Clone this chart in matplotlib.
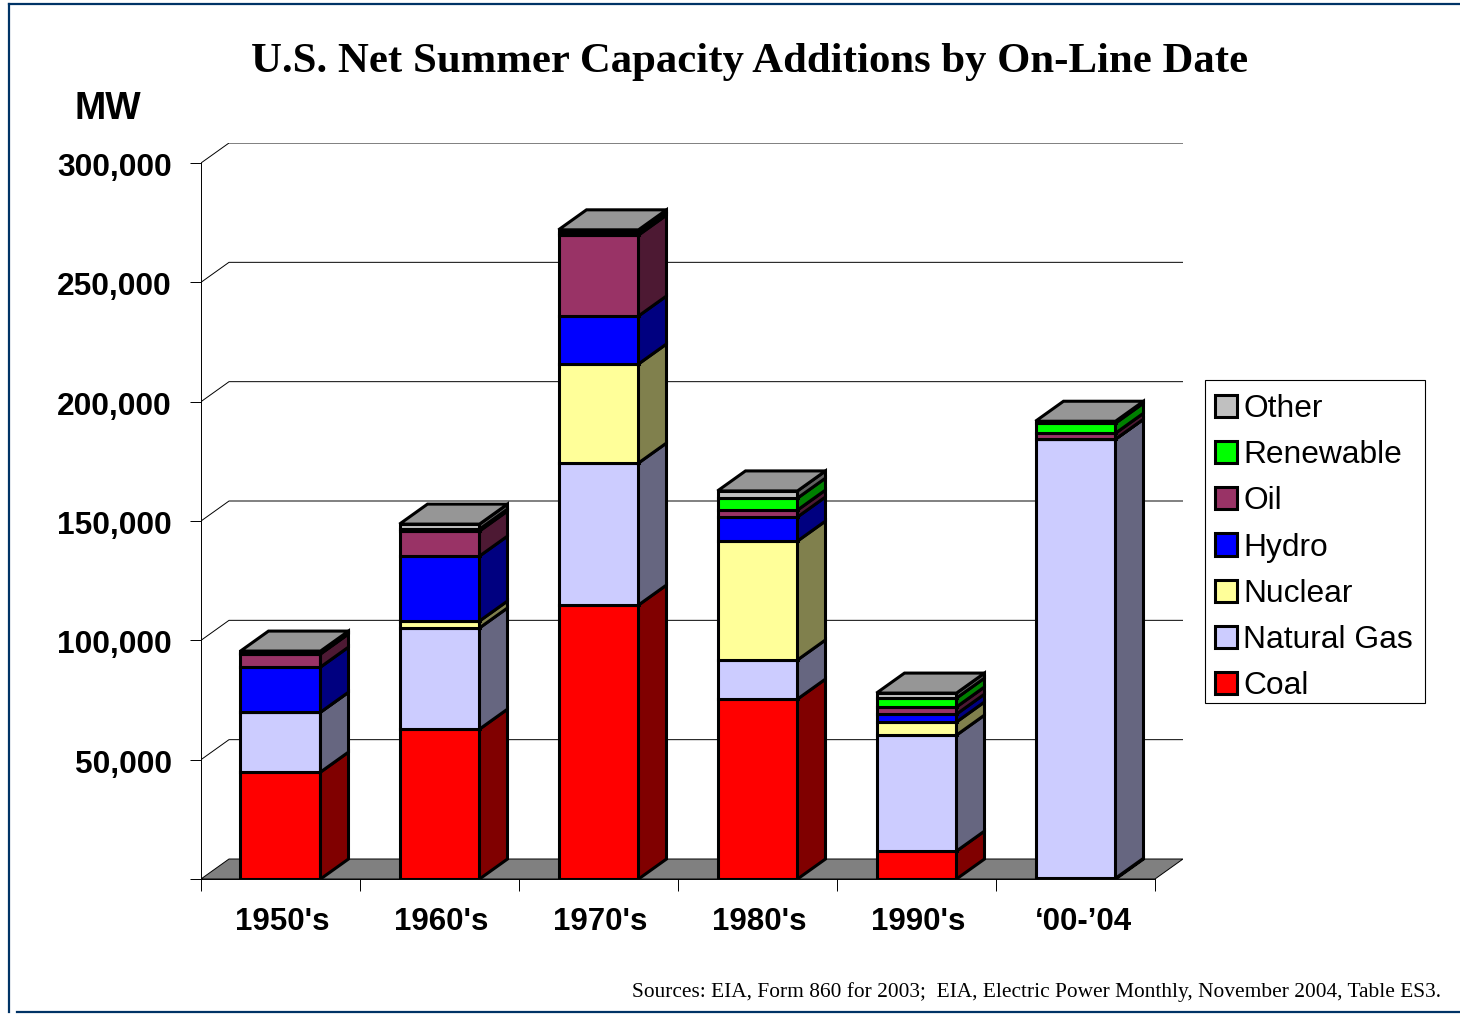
import numpy as np
import matplotlib
matplotlib.use("Agg")
import matplotlib.pyplot as plt
from matplotlib.lines import Line2D
from matplotlib.patches import Patch, Polygon, Rectangle
from matplotlib.transforms import ScaledTranslation

# values in MW
decades = ["1950's", "1960's", "1970's", "1980's", "1990's", "\u201800-\u201904"]
coal = [44800, 62800, 114800, 75400, 11700, 300]
natural_gas = [25100, 42400, 59500, 16400, 48600, 184000]
nuclear = [0, 2900, 41500, 49800, 5500, 0]
hydro = [18900, 27200, 20100, 10100, 3300, 0]
oil = [5500, 10500, 33900, 2900, 3000, 2500]
renewable = [300, 800, 1000, 5000, 3700, 4200]
other = [900, 2100, 1200, 3000, 2100, 800]

series = ["Coal", "Natural Gas", "Nuclear", "Hydro", "Oil", "Renewable", "Other"]
values = [coal, natural_gas, nuclear, hydro, oil, renewable, other]
front_colors = ["#FF0000", "#CCCCFF", "#FFFF99", "#0000FF", "#993366", "#00FF00", "#C0C0C0"]
side_colors = ["#800000", "#666680", "#80804D", "#000080", "#4D1933", "#008000", "#606060"]
y_ticks = [0, 50000, 100000, 150000, 200000, 250000, 300000]

W, H = 1460, 1014
plt.rcParams["font.family"] = ["Liberation Sans", "DejaVu Sans"]
fig = plt.figure(figsize=(W / 100, H / 100), dpi=100, facecolor="white")
ax = fig.add_axes([201 / W, (H - 879) / H, 982 / W, 736 / H])
ax.set_facecolor("none")

# one category = 159 px, 300000 MW = 716 px
xmax = 982 / 159
ymax = 736 / 716 * 300000
dx = 28 / 159
dy = 20 / 716 * 300000
bar_w = 80 / 159
edge = 2.2

ax.set_xlim(0, xmax)
ax.set_ylim(0, ymax)

# back wall lines and floor
for t in y_ticks[1:]:
    ax.plot([0, dx, xmax], [t, t + dy, t + dy], color="black", lw=0.7, zorder=1)
ax.add_patch(Polygon([(0, 0), (dx, dy), (xmax, dy), (6, 0)], closed=True,
                     facecolor="#808080", edgecolor="black", lw=0.7, zorder=1))

# stacked bars with fake depth
x = np.arange(len(decades)) + 0.5
for i in range(len(decades)):
    bottom = 0
    left = x[i] - bar_w / 2
    right = x[i] + bar_w / 2
    for s in range(len(series)):
        v = values[s][i]
        top = bottom + v
        ax.bar(x[i], v, bar_w, bottom=bottom, color=front_colors[s], edgecolor="black",
               linewidth=edge, zorder=3)
        ax.add_patch(Polygon([(right, bottom), (right + dx, bottom + dy), (right + dx, top + dy), (right, top)],
                             closed=True, facecolor=side_colors[s], edgecolor="black", lw=edge,
                             joinstyle="miter", zorder=3))
        bottom = top
    ax.add_patch(Polygon([(left, bottom), (left + dx, bottom + dy), (right + dx, bottom + dy), (right, bottom)],
                         closed=True, facecolor="#969696", edgecolor="black", lw=edge,
                         joinstyle="miter", zorder=3))

# axes
for name in ["top", "right"]:
    ax.spines[name].set_visible(False)
ax.spines["left"].set_bounds(0, 300000)
ax.spines["bottom"].set_bounds(0, 6)
ax.spines["left"].set_linewidth(0.7)
ax.spines["bottom"].set_linewidth(0.7)
ax.spines["left"].set_zorder(2)
ax.spines["bottom"].set_zorder(2)

ax.set_yticks(y_ticks)
ax.set_yticklabels(["" if t == 0 else f"{t:,}" for t in y_ticks], fontsize=22.85, fontweight="bold")
ax.tick_params(axis="y", length=8, width=0.7, pad=13)
for lab in ax.get_yticklabels():
    lab.set_transform(lab.get_transform() + ScaledTranslation(0, -1.5 / 100, fig.dpi_scale_trans))
ax.set_xticks(np.arange(7))
ax.set_xticklabels([])
ax.tick_params(axis="x", which="major", length=8.5, width=0.7)
ax.set_xticks(x, minor=True)
ax.set_xticklabels(decades, minor=True, fontsize=22.5, fontweight="bold")
ax.tick_params(axis="x", which="minor", length=0, pad=20)
labs = ax.get_xticklabels(minor=True)
for n, lab in enumerate(labs):
    shift = 8 if n == len(labs) - 1 else 1.5
    lab.set_transform(lab.get_transform() + ScaledTranslation(shift / 100, 0, fig.dpi_scale_trans))

# legend, top entry first, with its frame drawn apart to fit the box
ax.add_patch(Rectangle((1205 / W, 1 - 703 / H), 220 / W, 323 / H, transform=fig.transFigure,
                       facecolor="white", edgecolor="black", lw=0.8, clip_on=False, zorder=4))
handles = [Patch(facecolor=front_colors[s], edgecolor="black", linewidth=edge, label=series[s])
           for s in range(len(series) - 1, -1, -1)]
leg = ax.legend(handles=handles, loc="upper left", bbox_to_anchor=(1215 / W, (H - 394) / H),
                bbox_transform=fig.transFigure, fontsize=22.9, frameon=False, borderaxespad=0,
                borderpad=0, handlelength=0.69, handleheight=0.69, handletextpad=0.2,
                labelspacing=0.51)
leg.set_zorder(5)

# title and other text
fig.text(750 / W, 1 - 62 / H, "U.S. Net Summer Capacity Additions by On-Line Date",
         family="Liberation Serif", fontweight="bold", fontsize=30.8, ha="center", va="center")
fig.text(108 / W, 1 - 109 / H, "MW", fontsize=27, fontweight="bold", ha="center", va="center")
fig.text(1441 / W, 1 - 992 / H,
         "Sources: EIA, Form 860 for 2003;  EIA, Electric Power Monthly, November 2004, Table ES3.",
         family="Liberation Serif", fontsize=15.38, ha="right", va="center")

# slide border
navy = "#003366"
fig.add_artist(Line2D([9 / W, 9 / W], [1 - 4 / H, 1 - 1012 / H], color=navy, lw=1.6))
fig.add_artist(Line2D([9 / W, 1], [1 - 4 / H, 1 - 4 / H], color=navy, lw=1.6))
fig.add_artist(Line2D([17 / W, 1], [1 - 1012 / H, 1 - 1012 / H], color=navy, lw=1.6))

fig.savefig("out.png", dpi=100)
